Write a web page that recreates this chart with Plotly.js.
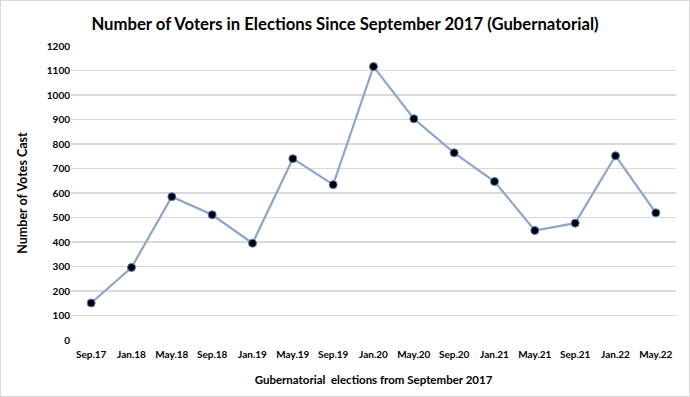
<!DOCTYPE html>
<html><head><meta charset="utf-8">
<script src="https://cdn.plot.ly/plotly-3.0.1.min.js"></script>
<style>
html,body{margin:0;padding:0;background:#fff;}
#wrap{position:relative;width:690px;height:397px;}
#chart{width:690px;height:397px;}
#frame{position:absolute;left:0;top:0;width:688px;height:395px;border:1px solid #d9d9d9;pointer-events:none;}
</style></head>
<body>
<div id="wrap"><div id="chart"></div><div id="frame"></div></div>
<script>
const categories = ["Sep.17","Jan.18","May.18","Sep.18","Jan.19","May.19","Sep.19","Jan.20","May.20","Sep.20","Jan.21","May.21","Sep.21","Jan.22","May.22"];
const votes = [151, 296, 585, 511, 395, 740, 634, 1116, 903, 764, 647, 447, 477, 752, 519];
const yTicks = [0,100,200,300,400,500,600,700,800,900,1000,1100,1200];

const font = "Lato, 'Open Sans', sans-serif";
Plotly.newPlot('chart', [{
  x: categories, y: votes, type: 'scatter', mode: 'lines+markers',
  line: {color: '#8fa5c9', width: 2.2},
  marker: {color: '#000000', size: 8, line: {color: '#4a86c8', width: 1}},
  hoverinfo: 'x+y'
}], {
  width: 690, height: 397,
  margin: {l: 71, r: 14, t: 46, b: 57},
  paper_bgcolor: '#fff', plot_bgcolor: '#fff',
  showlegend: false,
  title: {text: 'Number of Voters in Elections Since September 2017 (Gubernatorial)',
    font: {family: font, size: 16.7, color: '#000', weight: 'bold'}, x: 0.5, xanchor: 'center', y: 0.94, yanchor: 'middle'},
  xaxis: {type: 'category', range: [-0.5, 14.5], showgrid: false, zeroline: false, showline: false,
    ticks: '', ticklabelstandoff: 7, tickfont: {family: font, size: 10, color: '#000', weight: 'bold'},
    title: {text: 'Gubernatorial  elections from September 2017', font: {family: font, size: 11.5, color: '#000', weight: 'bold'}, standoff: 16}},
  yaxis: {range: [0, 1200], tickvals: yTicks, ticktext: yTicks.map(String), showgrid: true, gridcolor: '#d9d9d9', gridwidth: 1.5,
    zeroline: false, showline: false, ticks: '', ticklen: 0, tickfont: {family: font, size: 10, color: '#000', weight: 'bold'},
    title: {text: 'Number of Votes Cast', font: {family: font, size: 12.5, color: '#000', weight: 'bold'}, standoff: 16}}
}, {displayModeBar: false, staticPlot: true});
</script>
</body></html>
